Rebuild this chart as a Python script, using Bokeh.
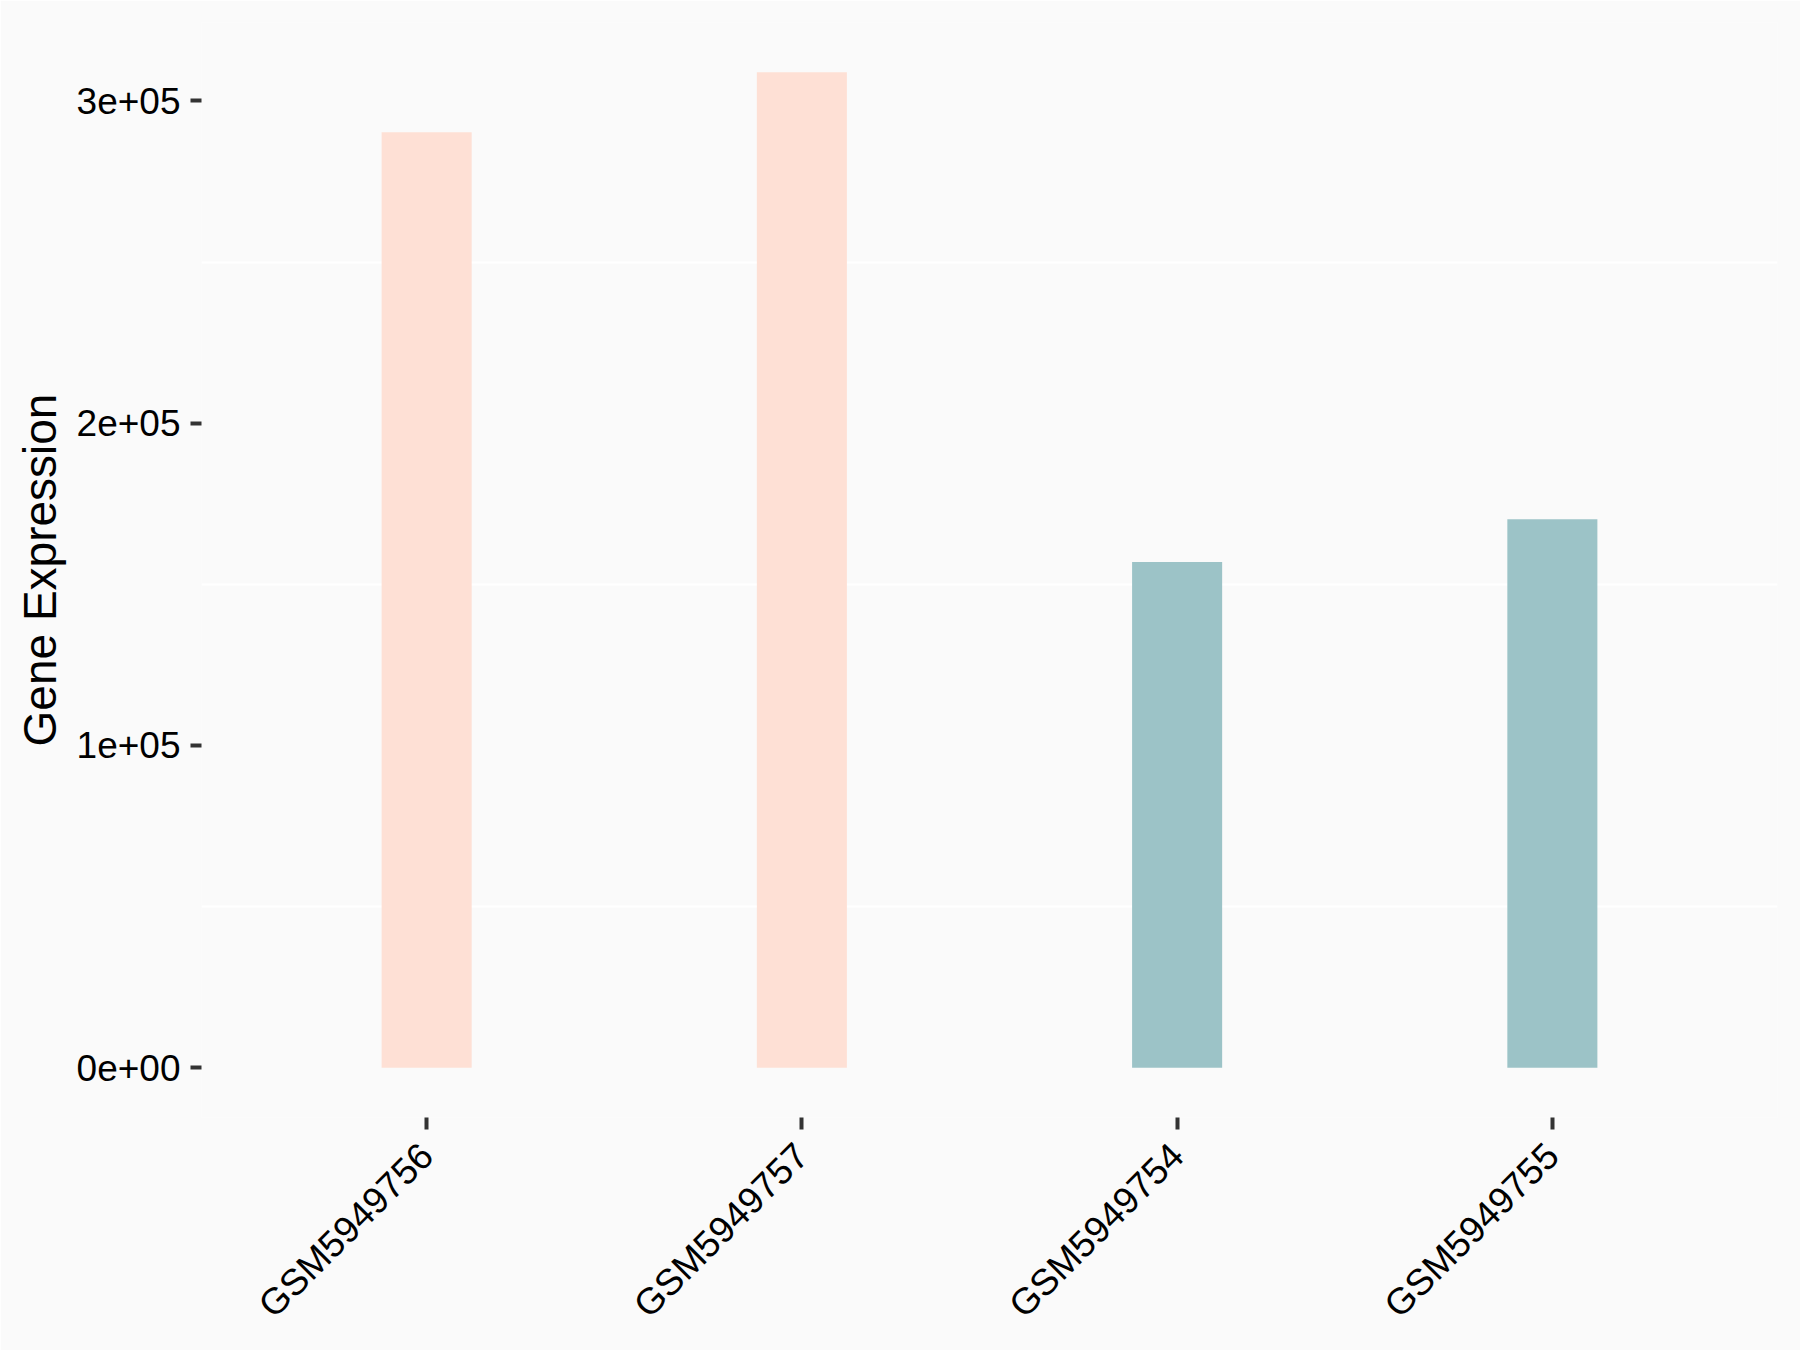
import math
from bokeh.plotting import figure
from bokeh.models import FactorRange, Range1d, FixedTicker, ColumnDataSource
from bokeh.embed import file_html
from bokeh.resources import INLINE

# ---- data ----
samples = ["GSM5949756", "GSM5949757", "GSM5949754", "GSM5949755"]
expression = [290300, 308900, 156900, 170200]
groups = ["A", "A", "B", "B"]
group_colors = {"A": "#FEE0D5", "B": "#9CC3C7"}
y_ticks = [0, 100000, 200000, 300000]
y_tick_labels = ["0e+00", "1e+05", "2e+05", "3e+05"]
y_minor = [50000, 150000, 250000]
y_label = "Gene Expression"

bg = "#FAFAFA"
font = "Liberation Sans"

src = ColumnDataSource(dict(
    x=samples, y=expression,
    color=[group_colors[g] for g in groups],
))

ymax = max(expression)
pad = 0.05 * ymax

p = figure(
    width=1800, height=1350,
    x_range=FactorRange(*samples, range_padding=0.05, range_padding_units="percent"),
    y_range=Range1d(-pad, ymax + pad),
    output_backend="svg", toolbar_location=None,
    min_border_left=201, min_border_right=23, min_border_top=22, min_border_bottom=233,
)
p.background_fill_color = bg
p.border_fill_color = bg
p.outline_line_color = None

p.vbar(x="x", top="y", bottom=0, width=0.24, color="color",
       line_color=None, source=src)

# grid
p.xgrid.grid_line_color = None
p.ygrid.grid_line_color = None
p.ygrid.ticker = FixedTicker(ticks=y_ticks, minor_ticks=y_minor)
p.ygrid.minor_grid_line_color = "white"
p.ygrid.minor_grid_line_width = 2
p.ygrid.level = "underlay"

# y axis
ya = p.yaxis[0]
ya.ticker = FixedTicker(ticks=y_ticks)
ya.major_label_overrides = {t: l for t, l in zip(y_ticks, y_tick_labels)}
ya.axis_line_color = None
ya.major_tick_in = 0
ya.major_tick_out = 11
ya.major_tick_line_width = 4
ya.major_tick_line_color = "#333333"
ya.minor_tick_line_color = None
ya.major_label_standoff = 10
ya.major_label_text_font = font
ya.major_label_text_font_size = "37px"
ya.major_label_text_color = "black"
ya.axis_label = y_label
ya.axis_label_text_font = font
ya.axis_label_text_font_size = "46px"
ya.axis_label_text_font_style = "normal"
ya.axis_label_text_color = "black"
ya.axis_label_standoff = 8

# x axis
xa = p.xaxis[0]
xa.axis_line_color = None
xa.major_tick_in = 0
xa.major_tick_out = 12
xa.major_tick_line_width = 4
xa.major_tick_line_color = "#333333"
xa.minor_tick_line_color = None
xa.major_label_orientation = math.pi / 4
xa.major_label_standoff = 20
xa.major_label_text_font = font
xa.major_label_text_font_size = "37px"
xa.major_label_text_color = "black"

html = file_html(p, INLINE)
open("out.html", "w").write(html)
